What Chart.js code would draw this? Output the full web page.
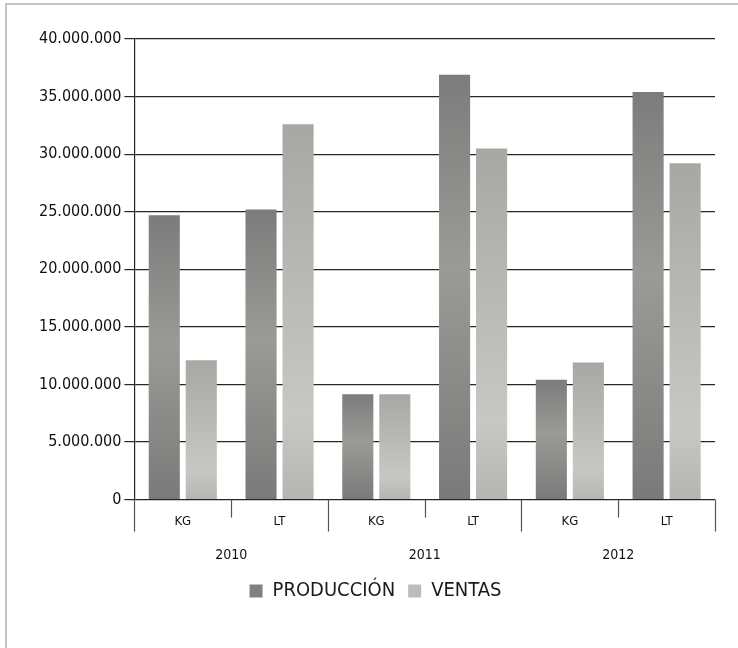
<!DOCTYPE html>
<html>
<head>
<meta charset="utf-8">
<script src="https://cdn.jsdelivr.net/npm/chart.js@4/dist/chart.umd.min.js"></script>
<style>
  body { margin: 0; background: #fff; }
  #wrap { position: relative; width: 738px; height: 648px; }
  #frame { position: absolute; left: 5px; top: 3px; right: 0; bottom: -5px;
           border-left: 2px solid #c4c4c4; border-top: 2px solid #c4c4c4; }
  canvas { position: absolute; left: 0; top: 0; }
</style>
</head>
<body>
<div id="wrap">
  <div id="frame"></div>
  <canvas id="chart" width="738" height="648"></canvas>
</div>
<script>
var categories = ["KG", "LT", "KG", "LT", "KG", "LT"];
var years = ["2010", "2011", "2012"];
var produccion = [24700000, 25200000, 9150000, 36900000, 10400000, 35400000];
var ventas = [12100000, 32600000, 9150000, 30500000, 11900000, 29200000];
var yTicks = [0, 5000000, 10000000, 15000000, 20000000, 25000000, 30000000, 35000000, 40000000];

var FONT = "'DejaVu Sans Condensed', 'DejaVu Sans', sans-serif";

function barGradient(stops, solid) {
  return function(ctx) {
    var chart = ctx.chart;
    if (!chart.chartArea || ctx.type !== 'data') return solid;
    var y = chart.scales.y;
    var top = y.getPixelForValue(ctx.raw);
    var bottom = y.getPixelForValue(0);
    if (!isFinite(top) || top === bottom) return solid;
    var g = chart.ctx.createLinearGradient(0, top, 0, bottom);
    stops.forEach(function(s) { g.addColorStop(s[0], s[1]); });
    return g;
  };
}

function fmt(v) {
  return String(v).replace(/\B(?=(\d{3})+(?!\d))/g, ".");
}

// separators under the category axis: short inside a year, long between years
var separators = {
  id: 'separators',
  afterDraw: function(chart) {
    var x = chart.scales.x, area = chart.chartArea, c = chart.ctx;
    var w = (x.right - x.left) / categories.length;
    c.save();
    c.strokeStyle = '#555';
    c.lineWidth = 1.2;
    for (var i = 0; i <= categories.length; i++) {
      var px = Math.round(x.left + i * w) + 0.5;
      var len = (i % 2 === 0) ? 32 : 18;
      c.beginPath();
      c.moveTo(px, area.bottom);
      c.lineTo(px, area.bottom + len);
      c.stroke();
    }
    c.restore();
  }
};

new Chart(document.getElementById('chart').getContext('2d'), {
  type: 'bar',
  data: {
    labels: categories,
    datasets: [
      {
        label: "PRODUCCIÓN",
        data: produccion,
        backgroundColor: barGradient([[0, '#7c7c7c'], [0.45, '#9a9a96'], [1, '#7a7a7a']], '#858585'),
        categoryPercentage: 0.765,
        barPercentage: 0.84
      },
      {
        label: "VENTAS",
        data: ventas,
        backgroundColor: barGradient([[0, '#a7a7a3'], [0.78, '#c7c7c3'], [1, '#b5b5b1']], '#bcbcbc'),
        categoryPercentage: 0.765,
        barPercentage: 0.84
      }
    ]
  },
  options: {
    responsive: false,
    animation: false,
    layout: { padding: { top: 39, left: 36, right: 23, bottom: 37 } },
    plugins: {
      tooltip: { enabled: false },
      legend: {
        position: 'bottom',
        labels: {
          font: { family: FONT, size: 20 },
          color: '#1a1a1a',
          boxWidth: 13,
          boxHeight: 13,
          padding: 13,
          generateLabels: function(chart) {
            var solid = ['#808080', '#bcbcbc'];
            return chart.data.datasets.map(function(ds, i) {
              return { text: ds.label, fillStyle: solid[i], strokeStyle: solid[i],
                       lineWidth: 0, datasetIndex: i, fontColor: '#1a1a1a' };
            });
          }
        }
      }
    },
    scales: {
      y: {
        min: 0,
        max: 40000000,
        afterBuildTicks: function(axis) {
          axis.ticks = yTicks.map(function(v) { return { value: v }; });
        },
        ticks: {
          font: { family: FONT, size: 16 },
          color: '#111',
          padding: 3,
          callback: function(v) { return fmt(v); }
        },
        grid: { color: '#262626', lineWidth: 1.2, tickLength: 10 },
        border: { display: true, color: '#262626', width: 1.2 }
      },
      x: {
        grid: { display: false },
        border: { display: false },
        ticks: { font: { family: FONT, size: 13 }, color: '#111', padding: 6 }
      },
      x2: {
        type: 'category',
        labels: years,
        position: 'bottom',
        offset: true,
        grid: { display: false },
        border: { display: false },
        ticks: { font: { family: FONT, size: 14 }, color: '#111', padding: 4 }
      }
    }
  },
  plugins: [separators]
});
</script>
</body>
</html>
